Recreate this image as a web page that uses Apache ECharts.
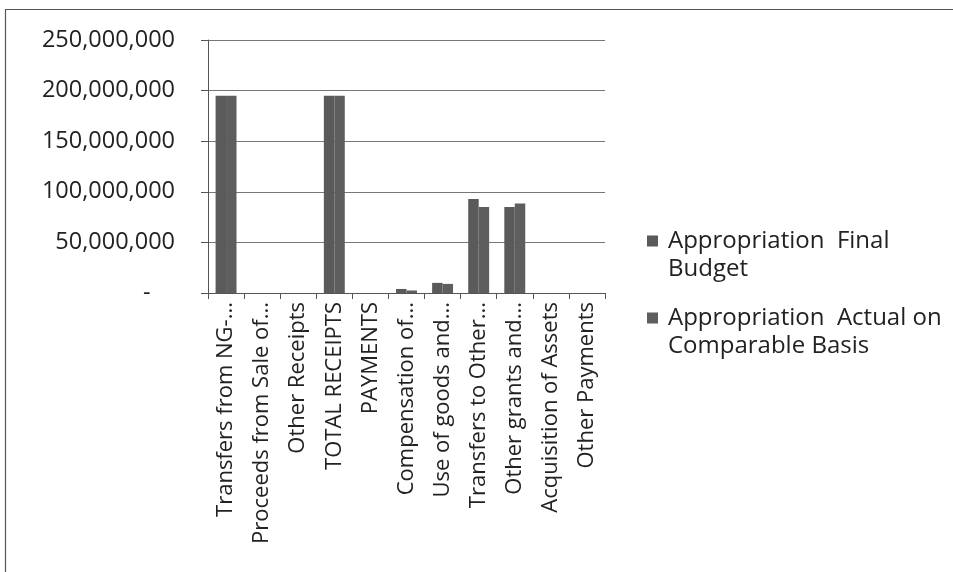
<!DOCTYPE html>
<html>
<head>
<meta charset="utf-8">
<script src="https://cdn.jsdelivr.net/npm/echarts@6/dist/echarts.min.js"></script>
<style>
html,body{margin:0;padding:0;background:#fff;}
#chart{width:953px;height:572px;}
</style>
</head>
<body>
<div id="chart"></div>
<script>
var categories = [
  'Transfers from NG-...',
  'Proceeds from Sale of...',
  'Other Receipts',
  'TOTAL RECEIPTS',
  'PAYMENTS',
  'Compensation of...',
  'Use of goods and...',
  'Transfers to Other...',
  'Other grants and...',
  'Acquisition of Assets',
  'Other Payments'
];
var seriesNames = ['Appropriation  Final\nBudget', 'Appropriation  Actual on\nComparable Basis'];
var finalBudget = [195000000, 0, 0, 195000000, 0, 4000000, 10000000, 93000000, 85000000, 0, 0];
var actualComparable = [195000000, 0, 0, 195000000, 0, 2500000, 9000000, 85000000, 88500000, 0, 0];
var yTicks = [0, 50000000, 100000000, 150000000, 200000000, 250000000];

var font = 'Open Sans';
var chart = echarts.init(document.getElementById('chart'));
chart.setOption({
  backgroundColor: '#ffffff',
  animation: false,
  graphic: [{
    type: 'rect',
    shape: {x: 5.5, y: 9.5, width: 1000, height: 700},
    style: {fill: 'none', stroke: '#555', lineWidth: 1.2},
    silent: true
  }],
  grid: {left: 208, right: 348, top: 40, bottom: 279, containLabel: false},
  legend: {
    orient: 'vertical',
    left: 642,
    top: 194,
    itemWidth: 16,
    itemHeight: 11,
    itemGap: -7,
    icon: 'path://M0,0L11,0L11,11L0,11Z M16,0L16,0.01',
    itemStyle: {borderWidth: 0},
    formatter: function (name) { return '\n' + name; },
    textStyle: {fontFamily: font, fontSize: 24, color: '#222', lineHeight: 28},
    data: seriesNames
  },
  xAxis: {
    type: 'category',
    data: categories,
    axisLine: {lineStyle: {color: '#555', width: 1}},
    axisTick: {show: true, alignWithLabel: false, length: 6, lineStyle: {color: '#555'}},
    axisLabel: {rotate: 90, interval: 0, fontFamily: font, fontSize: 22, color: '#222', margin: 9}
  },
  yAxis: {
    type: 'value',
    min: 0,
    max: 250000000,
    interval: 50000000,
    axisLine: {show: true, lineStyle: {color: '#555', width: 1}},
    axisTick: {show: true, length: 7, lineStyle: {color: '#555'}},
    splitLine: {show: true, lineStyle: {color: '#777', width: 1}},
    axisLabel: {
      fontFamily: font, fontSize: 23.5, color: '#222', margin: 33,
      formatter: function (v) {
        if (v === 0) return '-    ';
        return v.toLocaleString('en-US');
      }
    }
  },
  series: [
    {name: seriesNames[0], type: 'bar', data: finalBudget, barGap: '0%', barCategoryGap: '42%',
     itemStyle: {color: '#5a5a5a'}},
    {name: seriesNames[1], type: 'bar', data: actualComparable, barGap: '0%', barCategoryGap: '42%',
     itemStyle: {color: '#5e5e5e'}}
  ]
});
</script>
</body>
</html>
